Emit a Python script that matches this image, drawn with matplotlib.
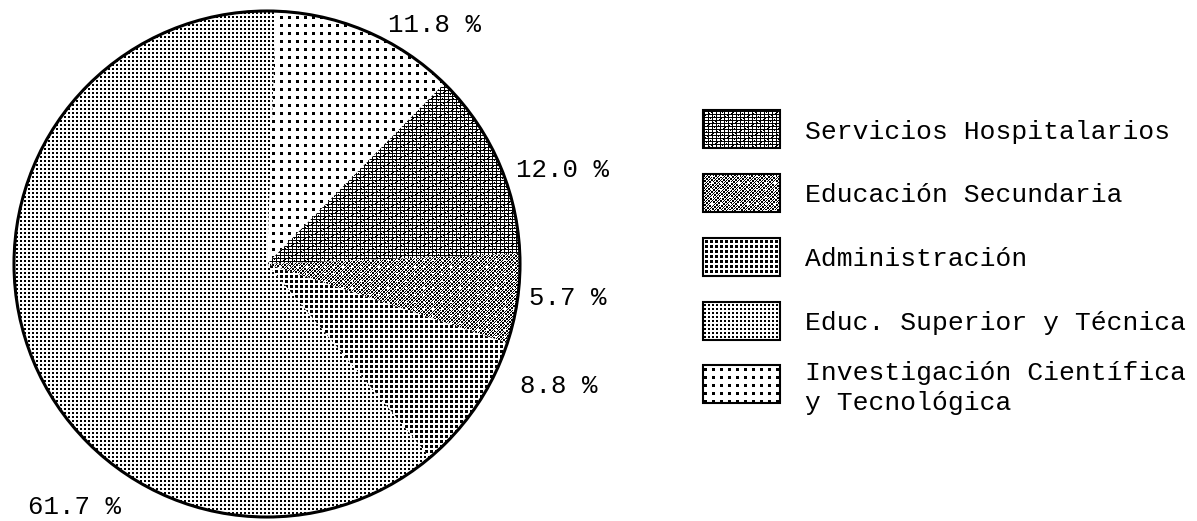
import numpy as np
import matplotlib
matplotlib.use("Agg")
import matplotlib.pyplot as plt
from matplotlib.patches import Circle, Rectangle

# Shares of the budget, in the clockwise order the slices are drawn
sectors = ["Investigación Científica\ny Tecnológica", "Servicios Hospitalarios",
           "Educación Secundaria", "Administración", "Educ. Superior y Técnica"]
shares = [11.8, 12.0, 5.7, 8.8, 61.7]
textures = ["sparse", "lines", "cross", "coarse", "fine"]

# Legend order
legend_order = [1, 2, 3, 4, 0]

W, H = 1197, 521
plt.rcParams['font.family'] = ['Liberation Mono', 'DejaVu Sans Mono']

fig = plt.figure(figsize=(W / 100, H / 100), dpi=100)
ax = fig.add_axes([0, 0, 1, 1])

yy, xx = np.mgrid[0:H, 0:W]


def halftone(kind):
    # 0 = ink, 1 = paper
    if kind == "sparse":
        ink = ((xx % 8) < 3) & ((yy % 8) < 3)
    elif kind == "fine":
        ink = ((xx % 4) < 2) & ((yy % 4) < 2)
    elif kind == "coarse":
        ink = ((xx % 5) < 3) & ((yy % 5) < 3)
    elif kind == "cross":
        ink = (((xx + yy) % 3 == 0) | ((xx - yy) % 4 == 0)) & ~((xx % 9 < 2) & (yy % 7 < 2))
    else:  # "lines"
        ink = (yy % 3 == 0) | (xx % 4 == 0) | ((xx + 2 * yy) % 11 == 0)
    return np.where(ink, 0.0, 1.0)


def fill(patch, kind):
    im = ax.imshow(halftone(kind), cmap="gray", vmin=0, vmax=1,
                   extent=(0, W, 0, H), origin="upper",
                   interpolation="nearest", zorder=2)
    im.set_clip_path(patch)


center = (267, H - 264)
radius = 253

wedges, _ = ax.pie(shares, startangle=88, counterclock=False,
                   center=center, radius=radius,
                   wedgeprops=dict(facecolor="white", edgecolor="none"))
for w, kind in zip(wedges, textures):
    fill(w, kind)

ax.add_patch(Circle(center, radius, facecolor="none", edgecolor="black",
                    lw=2.2, zorder=3))

# Percentage labels around the pie
label_xy = [(434, 25), (563, 170), (568, 298), (559, 386), (75, 507)]
for v, (x, y) in zip(shares, label_xy):
    ax.text(x, H - y, f"{v:.1f} %", fontsize=18.5, ha="center", va="center")

# Legend: swatch + text per row
row_top = [110, 174, 238, 302, 365]
text_y = [132, 195, 259, 323, 388]
for i, idx in enumerate(legend_order):
    box = Rectangle((703, H - row_top[i] - 38), 77, 38, facecolor="none",
                    edgecolor="none")
    ax.add_patch(box)
    fill(box, textures[idx])
    ax.add_patch(Rectangle((703, H - row_top[i] - 38), 77, 38, facecolor="none",
                           edgecolor="black", lw=1.5, zorder=3))
    ax.text(805, H - text_y[i], sectors[idx], fontsize=19, ha="left",
            va="center", linespacing=1.3)

ax.set_xlim(0, W)
ax.set_ylim(0, H)
ax.set_aspect("auto")
ax.axis("off")

fig.savefig("out.png", dpi=100)
